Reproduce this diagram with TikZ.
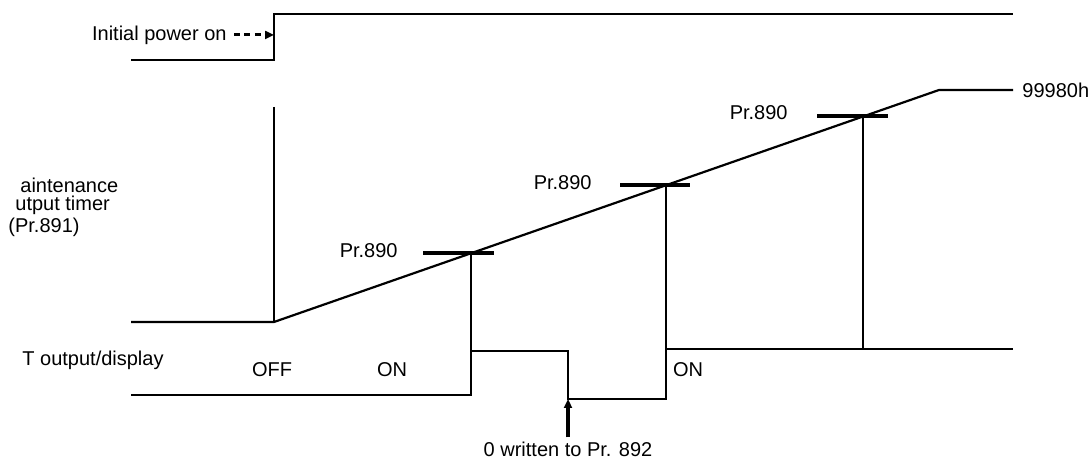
\documentclass[tikz,border=0pt]{standalone}
\usepackage{fontspec}
\setmainfont{Liberation Sans}
\usetikzlibrary{arrows.meta,positioning}

\begin{document}
\begin{tikzpicture}[x=0.5pt,y=-0.5pt,>={Triangle[length=4.5pt,width=4pt]},
  every node/.style={font=\fontsize{10}{12}\selectfont,inner sep=0pt},
  sig/.style={line width=1.1pt},
  tick/.style={line width=1.7pt}]
\useasboundingbox (0,0) rectangle (1089,459);
% power on signal
\coordinate (pwr) at (274,35);
\draw[sig] (131,60) -- (274,60) -- (274,14) -- (1013,14);
\node[anchor=east] (init) at (227,35) {Initial power on};
\draw[->,dashed,dash pattern=on 3pt off 2.2pt,line width=1.5pt,shorten <=3.5pt] (init) -- (pwr);
% maintenance timer
\node[anchor=west] (lbla) at (20,185) {aintenance};
\node[anchor=west] (lblb) at (15,205) {utput timer};
\node[anchor=west] (lblc) at (8,227) {(Pr.891)};
\coordinate (t0) at (274,322);
\coordinate (t4) at (939,90);
\coordinate (t5) at (1013,90);
\draw[sig] (131,322) -- (t0) -- (t4) -- (t5);
\draw[sig] (274,107) -- (t0);
\node[right=4.5pt of t5] (max) {99980h};
\coordinate (m1) at (471,253);
\coordinate (m2) at (666,185);
\coordinate (m3) at (863,116);
\draw[tick] (423,253) -- (494,253);
\draw[tick] (620,185) -- (690,185);
\draw[tick] (817,116) -- (888,116);
\node[anchor=east] (p1) at (398,251) {Pr.890};
\node[anchor=east] (p2) at (592,183) {Pr.890};
\node[anchor=east] (p3) at (788,113) {Pr.890};
% output signal
\node[anchor=west] (lbld) at (22,360) {T output/display};
\coordinate (s1) at (471,395);
\coordinate (s3) at (568,399);
\draw[sig] (131,395) -- (s1) -- (471,351) -- (568,351) -- (s3) -- (666,399) -- (666,349) -- (1013,349);
\draw[sig] (m1) -- (s1);
\draw[sig] (m2) -- (666,399);
\draw[sig] (m3) -- (863,349);
\node (off) at (272,370) {OFF};
\node (on1) at (392,370) {ON};
\node (on2) at (688,370) {ON};
\node (wr) at (568,449) {0 written to Pr. 892};
\draw[->,line width=1.6pt,shorten <=2pt] (wr) -- (s3);
\end{tikzpicture}
\end{document}
